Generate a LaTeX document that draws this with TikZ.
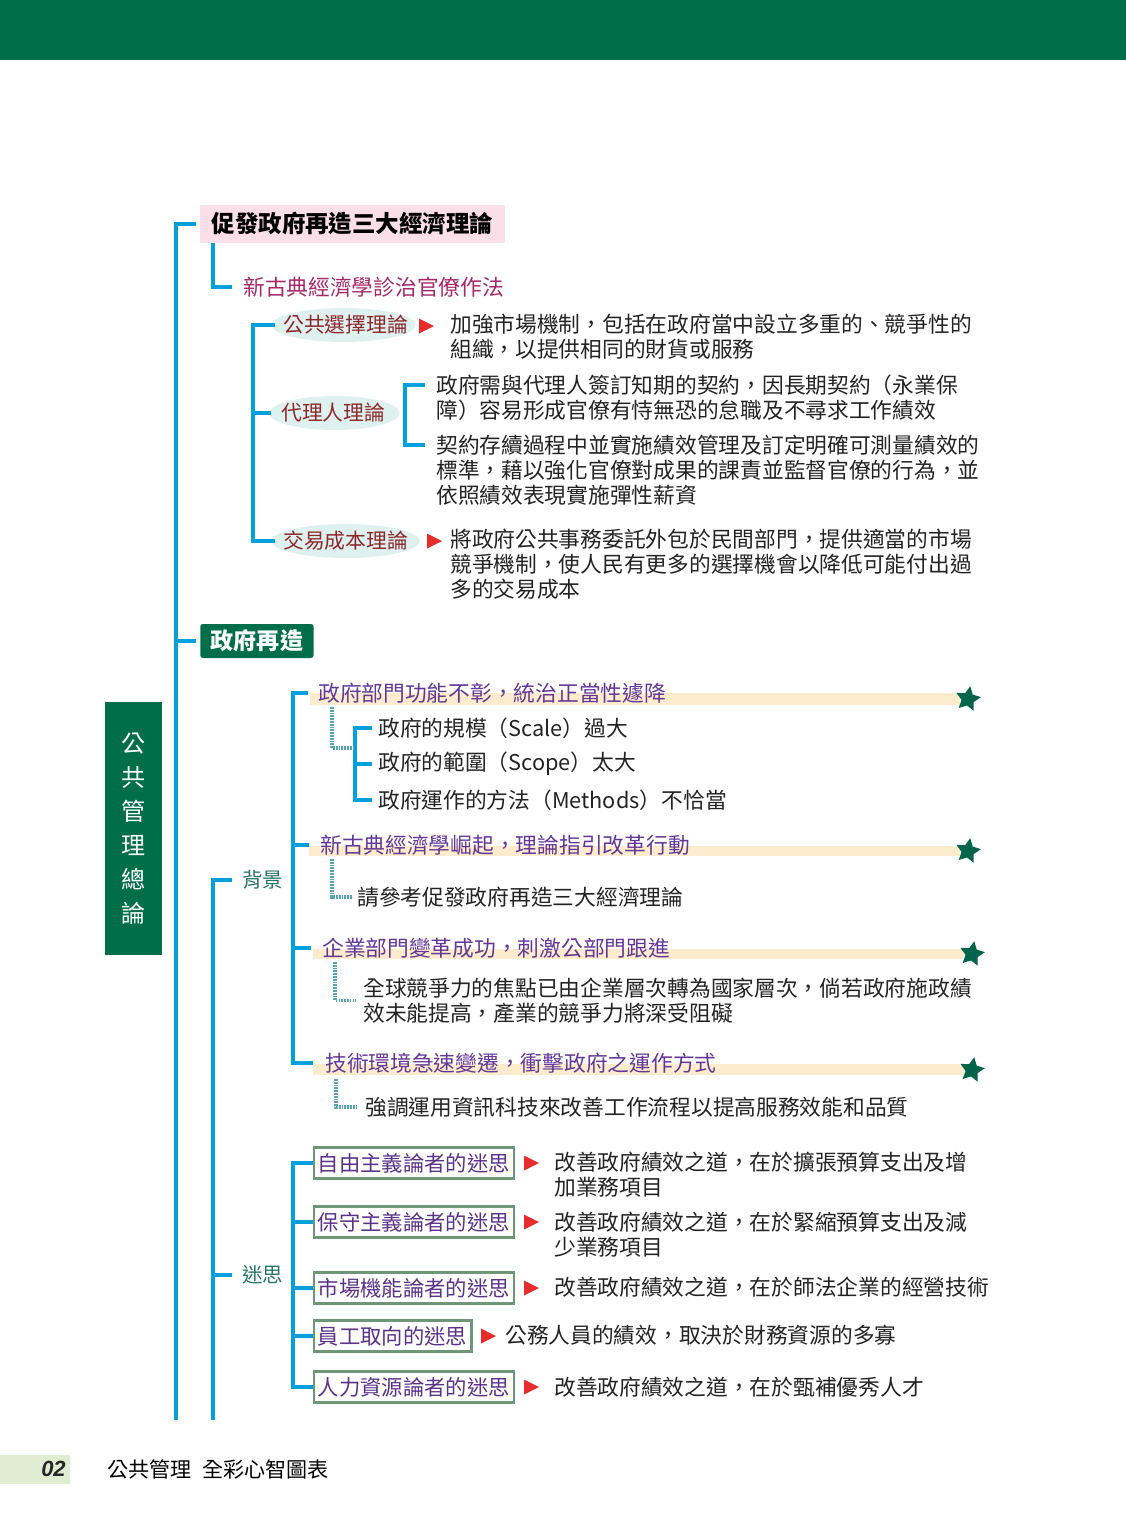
\documentclass[tikz,border=0pt]{standalone}
\usepackage{fontspec}
\setmainfont{Noto Sans CJK TC}
\newfontfamily\latf{Liberation Sans}
\usetikzlibrary{shapes.geometric,backgrounds}
\definecolor{topgreen}{RGB}{0,110,72}
\definecolor{lineblue}{RGB}{0,160,220}
\definecolor{pinkbg}{RGB}{250,222,232}
\definecolor{magtext}{RGB}{165,40,105}
\definecolor{thred}{RGB}{140,40,45}
\definecolor{thbg}{RGB}{222,241,238}
\definecolor{hpurple}{RGB}{100,55,150}
\definecolor{hbarc}{RGB}{252,236,205}
\definecolor{tealtxt}{RGB}{40,115,100}
\definecolor{dotc}{RGB}{85,165,180}
\definecolor{mythbd}{RGB}{110,150,120}
\definecolor{mythtx}{RGB}{90,50,135}
\definecolor{trired}{RGB}{230,45,45}
\definecolor{starg}{RGB}{0,100,75}
\definecolor{footbg}{RGB}{225,237,210}
\definecolor{bodytx}{RGB}{35,35,35}
\newcommand\redtri[2]{\fill[trired] (#1,#2) ++(0,-7.5) -- ++(15,7.5) -- ++(-15,7.5) -- cycle;}
\begin{document}
\begin{tikzpicture}[x=0.75pt,y=-0.75pt,
  lnk/.style={draw=lineblue,line width=2.6pt},
  dotl/.style={draw=dotc,line width=2.6pt,dash pattern=on 1.3pt off 0.8pt},
  bodytext/.style={font=\fontsize{16.3pt}{18.75pt}\selectfont,text=bodytx,inner sep=0pt,anchor=west,align=left},
  hdtext/.style={bodytext,text=hpurple},
  thy/.style={font=\fontsize{15.6pt}{18pt}\selectfont,text=thred,inner sep=0pt,anchor=west},
  mythbox/.style={draw=mythbd,line width=2.2pt,fill=white,text=mythtx,font=\fontsize{16pt}{18pt}\selectfont,inner xsep=3pt,inner ysep=0pt,minimum height=23.5pt,anchor=west},
  stardot/.style={star,star points=5,star point ratio=2.0,fill=starg,inner sep=0pt,minimum size=19.5pt,rotate=-10},
  cattext/.style={font=\fontsize{15.4pt}{18pt}\selectfont,text=tealtxt,inner sep=0pt,anchor=west}
]
\useasboundingbox (0,0) rectangle (1126,1539);
\fill[topgreen] (0,0) rectangle (1126,60);

% root box
\node[fill=topgreen,minimum width=42.75pt,minimum height=189.75pt,inner sep=0pt,text=white,
      font=\fontsize{18pt}{25.5pt}\selectfont,align=center] (root) at (133.5,828.5) {公\\共\\管\\理\\總\\論};

% level 1 nodes
\node[fill=pinkbg,font=\bfseries\fontsize{17.6pt}{20pt}\selectfont,text=black,inner xsep=8.5pt,inner ysep=0pt,
      minimum height=28.5pt,anchor=west] (eco) at (200,224) {促發政府再造三大經濟理論};
\node[fill=topgreen,rounded corners=2pt,text=white,font=\bfseries\fontsize{17.3pt}{20pt}\selectfont,
      inner xsep=7.9pt,inner ysep=0pt,minimum height=25.5pt,anchor=west] (reinv) at (200,641) {政府再造};

\coordinate (mbot) at (176,1420);
\draw[lnk] (mbot) |- ([xshift=-3pt]eco.west);
\draw[lnk] (mbot |- reinv.west) -- ([xshift=-3pt]reinv.west);

% neo-classical
\node[bodytext,text=magtext] (neo) at (243,287) {新古典經濟學診治官僚作法};
\draw[lnk] ([xshift=9.75pt]eco.south west) |- ([xshift=-8.25pt]neo.west);

% theories
\node[thy] (th1) at (283,325) {公共選擇理論};
\node[thy] (th2) at (281,413) {代理人理論};
\node[thy] (th3) at (283,541) {交易成本理論};
\begin{scope}[on background layer]
\fill[thbg] ([xshift=-1.5pt]th1.center) ellipse (72 and 17);
\fill[thbg] ([xshift=1pt]th2.center) ellipse (65 and 17);
\fill[thbg] (th3.center) ellipse (74 and 17);
\end{scope}
\coordinate (thx) at (253,0);
\draw[lnk] ([xshift=-6pt]th1.west) -- (th1.west -| thx) -- (th3.west -| thx) -- ([xshift=-6pt]th3.west);
\draw[lnk] (th2.west -| thx) -- ([xshift=-7.5pt]th2.west);

\redtri{419}{326}
\node[bodytext] (t1) at (450,337) {加強市場機制，包括在政府當中設立多重的、競爭性的\\組織，以提供相同的財貨或服務};

\node[bodytext] (a1) at (436,397.5) {政府需與代理人簽訂知期的契約，因長期契約（永業保\\障）容易形成官僚有恃無恐的怠職及不尋求工作績效};
\node[bodytext] (a2) at (436,470) {契約存續過程中並實施績效管理及訂定明確可測量績效的\\標準，藉以強化官僚對成果的課責並監督官僚的行為，並\\依照績效表現實施彈性薪資};
\coordinate (ag1) at (425,385);
\coordinate (ag2) at (425,445);
\draw[lnk] (ag1) -- (405,385) -- (405,445) -- (ag2);

\redtri{427}{541}
\node[bodytext] (t3) at (450,564) {將政府公共事務委託外包於民間部門，提供適當的市場\\競爭機制，使人民有更多的選擇機會以降低可能付出過\\多的交易成本};

% 背景 / 迷思
\node[cattext] (bg) at (242,880) {背景};
\node[cattext] (my) at (242,1275) {迷思};
\coordinate (l2x) at (213,1420);
\draw[lnk] (l2x) |- ([xshift=-7.5pt]bg.west);
\draw[lnk] (l2x |- my.west) -- ([xshift=-7.5pt]my.west);

% background headings
\node[hdtext] (h1) at (318,693) {政府部門功能不彰，統治正當性遽降};
\node[hdtext] (h2) at (320,845) {新古典經濟學崛起，理論指引改革行動};
\node[hdtext] (h3) at (322,948) {企業部門變革成功，刺激公部門跟進};
\node[hdtext] (h4) at (325,1063) {技術環境急速變遷，衝擊政府之運作方式};
\node[stardot] (s1) at (968,699) {};
\node[stardot] (s2) at (968,851) {};
\node[stardot] (s3) at (972,954) {};
\node[stardot] (s4) at (972,1070) {};
\begin{scope}[on background layer]
\fill[hbarc] ([xshift=-6pt]h1.west) rectangle ([yshift=-5.25pt]s1.west);
\fill[hbarc] ([xshift=-8pt,yshift=-0.75pt]h2.west) rectangle ([yshift=-5pt]s2.west);
\fill[hbarc] ([xshift=-7pt,yshift=-0.75pt]h3.west) rectangle ([yshift=-4.5pt]s3.west);
\fill[hbarc] ([xshift=-9pt,yshift=-0.75pt]h4.west) rectangle ([yshift=-4.5pt]s4.west);
\end{scope}
\coordinate (bgx) at (293,0);
\draw[lnk] ([xshift=-7.5pt]h1.west) -- (h1.west -| bgx) -- (h4.west -| bgx) -- ([xshift=-9pt]h4.west);
\draw[lnk] (h2.west -| bgx) -- ([xshift=-8pt]h2.west);
\draw[lnk] (h3.west -| bgx) -- ([xshift=-8pt]h3.west);

% sub items of h1
\node[bodytext] (g1) at (378,728) {政府的規模（Scale）過大};
\node[bodytext] (g2) at (378,764) {政府的範圍（Scope）太大};
\node[bodytext] (g3) at (378,800) {政府運作的方法（Methods）不恰當};
\coordinate (sbx) at (355,0);
\draw[lnk,line width=2.3pt] ([xshift=-4.5pt]g1.west) -- (g1.west -| sbx) -- (g3.west -| sbx) -- ([xshift=-4.5pt]g3.west);
\draw[lnk,line width=2.3pt] (g2.west -| sbx) -- ([xshift=-4.5pt]g2.west);
\coordinate (d1s) at (332,707);
\coordinate (d1e) at (353,748);
\draw[dotl] (d1s) |- (d1e);

% sub items of h2..h4
\node[bodytext] (r2) at (357,897) {請參考促發政府再造三大經濟理論};
\coordinate (d2s) at (332,859);
\draw[dotl] (d2s) |- ([xshift=-3.75pt]r2.west);

\node[bodytext] (r3) at (363,1000.5) {全球競爭力的焦點已由企業層次轉為國家層次，倘若政府施政績\\效未能提高，產業的競爭力將深受阻礙};
\coordinate (d3s) at (335,962);
\draw[dotl] (d3s) |- ([xshift=-5.5pt]r3.west);

\node[bodytext] (r4) at (365,1107) {強調運用資訊科技來改善工作流程以提高服務效能和品質};
\coordinate (d4s) at (336,1079);
\draw[dotl] (d4s) |- ([xshift=-6.5pt]r4.west);

% myths
\node[mythbox] (m1) at (312.5,1163) {自由主義論者的迷思};
\node[mythbox] (m2) at (312.5,1222) {保守主義論者的迷思};
\node[mythbox] (m3) at (312.5,1288) {市場機能論者的迷思};
\node[mythbox] (m4) at (312.5,1336) {員工取向的迷思};
\node[mythbox] (m5) at (312.5,1387) {人力資源論者的迷思};
\coordinate (mx) at (293,0);
\draw[lnk] (m1.west) -- (m1.west -| mx) -- (m5.west -| mx) -- (m5.west);
\draw[lnk] (m2.west -| mx) -- (m2.west);
\draw[lnk] (m3.west -| mx) -- (m3.west);
\draw[lnk] (m4.west -| mx) -- (m4.west);

\redtri{524}{1163}
\redtri{524}{1222}
\redtri{524}{1288}
\redtri{481}{1336}
\redtri{524}{1387}
\node[bodytext] (e1) at (554,1174.5) {改善政府績效之道，在於擴張預算支出及增\\加業務項目};
\node[bodytext] (e2) at (554,1234.5) {改善政府績效之道，在於緊縮預算支出及減\\少業務項目};
\node[bodytext] (e3) at (554,1287) {改善政府績效之道，在於師法企業的經營技術};
\node[bodytext] (e4) at (505,1335) {公務人員的績效，取決於財務資源的多寡};
\node[bodytext] (e5) at (554,1387) {改善政府績效之道，在於甄補優秀人才};

% footer
\fill[footbg] (0,1455) rectangle (70,1484);
\node[font=\latf\bfseries\itshape\fontsize{16.5pt}{18pt}\selectfont,anchor=east,inner sep=0pt,text=black!85] (pg) at (66,1469) {02};
\node[font=\fontsize{15.8pt}{18pt}\selectfont,anchor=west,inner sep=0pt,text=black] (ft) at (107,1469) {公共管理\hspace{0.5em}全彩心智圖表};
\end{tikzpicture}
\end{document}
